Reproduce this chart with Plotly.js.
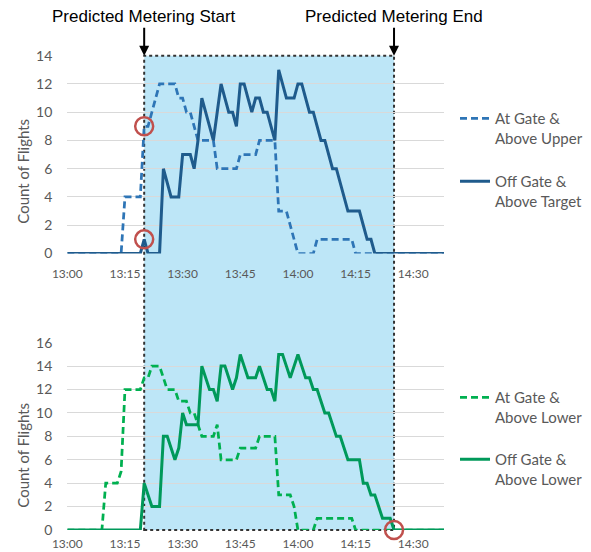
<!DOCTYPE html>
<html>
<head>
<meta charset="utf-8">
<script src="https://cdn.plot.ly/plotly-3.0.1.min.js"></script>
<style>
html,body{margin:0;padding:0;background:#ffffff;}
#chart{width:591px;height:552px;}
</style>
</head>
<body>
<div id="chart"></div>
<script>
// ---- DATA ----
// minutes after 13:00, one sample per minute
const minutes = Array.from({length: 99}, (_, i) => i);
const tickMinutes = [0, 15, 30, 45, 60, 75, 90];
const tickLabels = ["13:00", "13:15", "13:30", "13:45", "14:00", "14:15", "14:30"];

const atGateAboveUpper = [
  0,0,0,0,0,0,0,0,0,0,
  0,0,0,0,0,4,4,4,4,4,
  9,9,10,11,12,12,12,12,12,11,
  11,10,10,9,8,8,8,8,8,6,
  6,6,6,6,6,7,7,7,7,7,
  8,8,8,8,8,3,3,3,2,1,
  0,0,0,0,0,1,1,1,1,1,
  1,1,1,1,1,0,0,0,0,0,
  0,0,0,0,0,0,0,0,0,0,
  0,0,0,0,0,0,0,0,0
];
const offGateAboveTarget = [
  0,0,0,0,0,0,0,0,0,0,
  0,0,0,0,0,0,0,0,0,0,
  1,0,0,0,0,6,5,4,4,4,
  7,7,7,6,8,11,10,9,8,10,
  12,11,10,10,9,12,12,11,10,11,
  11,10,10,9,8,13,12,11,11,11,
  12,12,11,10,10,9,8,8,7,6,
  6,5,4,3,3,3,3,2,1,1,
  0,0,0,0,0,0,0,0,0,0,
  0,0,0,0,0,0,0,0,0
];
const atGateAboveLower = [
  0,0,0,0,0,0,0,0,0,0,
  4,4,4,4,5,12,12,12,12,12,
  13,13,14,14,14,13,12,12,12,11,
  11,11,10,10,9,8,8,8,8,9,
  6,6,6,6,6,7,7,7,7,7,
  8,8,8,8,8,3,3,3,3,2,
  0,0,0,0,0,1,1,1,1,1,
  1,1,1,1,1,0,0,0,0,0,
  0,0,0,0,0,0,0,0,0,0,
  0,0,0,0,0,0,0,0,0
];
const offGateAboveLower = [
  0,0,0,0,0,0,0,0,0,0,
  0,0,0,0,0,0,0,0,0,0,
  4,3,2,2,2,8,8,7,6,7,
  10,9,9,9,9,14,13,12,12,11,
  14,14,13,12,13,15,14,13,13,13,
  14,13,12,12,11,15,15,14,13,14,
  15,14,13,13,12,12,11,10,10,9,
  8,8,7,6,6,6,6,4,4,3,
  3,2,1,1,1,0,0,0,0,0,
  0,0,0,0,0,0,0,0,0
];

// predicted metering window (minutes after 13:00)
const meteringStart = 20;
const meteringEnd = 85;
// highlighted points
const circleTopMin = [20, 20];
const circleTopVal = [9, 1];
const circleBotMin = [85];
const circleBotVal = [0];

// ---- STYLE ----
const W = 591, H = 552;
const tickFont = 'Lato, "Open Sans", sans-serif';
const xDom = [67.3 / W, 444 / W];
const yDomTop = [(H - 253.5) / H, (H - 55.7) / H];
const yDomBot = [(H - 530) / H, (H - 342.7) / H];
const grey = '#595959';

const traces = [
  {x: minutes, y: atGateAboveUpper, xaxis: 'x', yaxis: 'y', mode: 'lines',
   name: 'At Gate &<br>Above Upper', legend: 'legend', legendgroup: 'a',
   line: {color: '#2E75B6', width: 2.75, dash: '7px,4px'}},
  {x: minutes, y: offGateAboveTarget, xaxis: 'x', yaxis: 'y', mode: 'lines',
   name: 'Off Gate &<br>Above Target', legend: 'legend', legendgroup: 'b',
   line: {color: '#1F5B8C', width: 3}},
  {x: minutes, y: atGateAboveLower, xaxis: 'x2', yaxis: 'y2', mode: 'lines',
   name: 'At Gate &<br>Above Lower', legend: 'legend2', legendgroup: 'c',
   line: {color: '#00B050', width: 2.75, dash: '7px,4px'}},
  {x: minutes, y: offGateAboveLower, xaxis: 'x2', yaxis: 'y2', mode: 'lines',
   name: 'Off Gate &<br>Above Lower', legend: 'legend2', legendgroup: 'd',
   line: {color: '#00995A', width: 3}},
  {x: circleTopMin, y: circleTopVal, xaxis: 'x', yaxis: 'y', mode: 'markers', showlegend: false,
   marker: {symbol: 'circle-open', size: 18, color: '#C0504D', line: {width: 2.5, color: '#C0504D'}}},
  {x: circleBotMin, y: circleBotVal, xaxis: 'x2', yaxis: 'y2', mode: 'markers', showlegend: false, cliponaxis: false,
   marker: {symbol: 'circle-open', size: 18, color: '#C0504D', line: {width: 2.5, color: '#C0504D'}}}
];

function xAxis(anchor, standoff, tlen) {
  return {domain: xDom, anchor: anchor, range: [0, 98], tickmode: 'array',
    tickvals: tickMinutes, ticktext: tickLabels, showgrid: false, zeroline: false,
    showline: false, ticks: 'outside', ticklen: tlen, tickcolor: 'rgba(0,0,0,0)',
    ticklabelstandoff: standoff,
    tickfont: {family: tickFont, size: 12, color: grey}};
}
function yAxis(anchor, dom, max) {
  return {domain: dom, anchor: anchor, range: [0, max], dtick: 2, tick0: 0,
    showgrid: true, gridcolor: '#D9D9D9', gridwidth: 1, zeroline: false, showline: false,
    ticks: '', ticklabelstandoff: 14, tickfont: {family: tickFont, size: 14, color: grey}};
}

const legendBase = {xanchor: 'left', yanchor: 'top', x: 455 / W, valign: 'top',
  traceorder: 'grouped', bgcolor: 'rgba(0,0,0,0)',
  font: {family: tickFont, size: 15, color: grey}};

const layout = {
  width: W, height: H, margin: {l: 0, r: 0, t: 0, b: 0},
  paper_bgcolor: '#ffffff', plot_bgcolor: 'rgba(0,0,0,0)',
  showlegend: true,
  xaxis: xAxis('y', 5, 4), yaxis: yAxis('x', yDomTop, 14),
  xaxis2: xAxis('y2', 1, 2), yaxis2: yAxis('x2', yDomBot, 16),
  legend: Object.assign({}, legendBase, {y: (H - 102) / H, tracegroupgap: 21}),
  legend2: Object.assign({}, legendBase, {y: (H - 381) / H, tracegroupgap: 20}),
  shapes: [{type: 'rect', xref: 'x', yref: 'paper', x0: meteringStart, x1: meteringEnd,
    y0: yDomBot[0], y1: yDomTop[1], fillcolor: '#BDE6F7', layer: 'below',
    line: {color: '#333333', width: 2, dash: 'dot'}}],
  annotations: [
    {xref: 'x', yref: 'y', x: meteringStart, y: 14, ax: 0, ay: -39, showarrow: true,
     arrowhead: 2, arrowsize: 1, arrowwidth: 2, arrowcolor: '#000', standoff: 0,
     text: 'Predicted Metering Start', font: {family: '"Liberation Sans", Arial, sans-serif', size: 17, color: '#000'}},
    {xref: 'x', yref: 'y', x: meteringEnd, y: 14, ax: 0, ay: -39, showarrow: true,
     arrowhead: 2, arrowsize: 1, arrowwidth: 2, arrowcolor: '#000', standoff: 0,
     text: 'Predicted Metering End', font: {family: '"Liberation Sans", Arial, sans-serif', size: 17, color: '#000'}},
    {xref: 'paper', yref: 'paper', x: 22.7 / W, y: (H - 171) / H, textangle: -90, showarrow: false,
     xanchor: 'center', yanchor: 'middle', text: 'Count of Flights', font: {family: tickFont, size: 15, color: grey}},
    {xref: 'paper', yref: 'paper', x: 22.7 / W, y: (H - 455) / H, textangle: -90, showarrow: false,
     xanchor: 'center', yanchor: 'middle', text: 'Count of Flights', font: {family: tickFont, size: 15, color: grey}}
  ]
};

Plotly.newPlot('chart', traces, layout, {staticPlot: true, displayModeBar: false});
</script>
</body>
</html>
